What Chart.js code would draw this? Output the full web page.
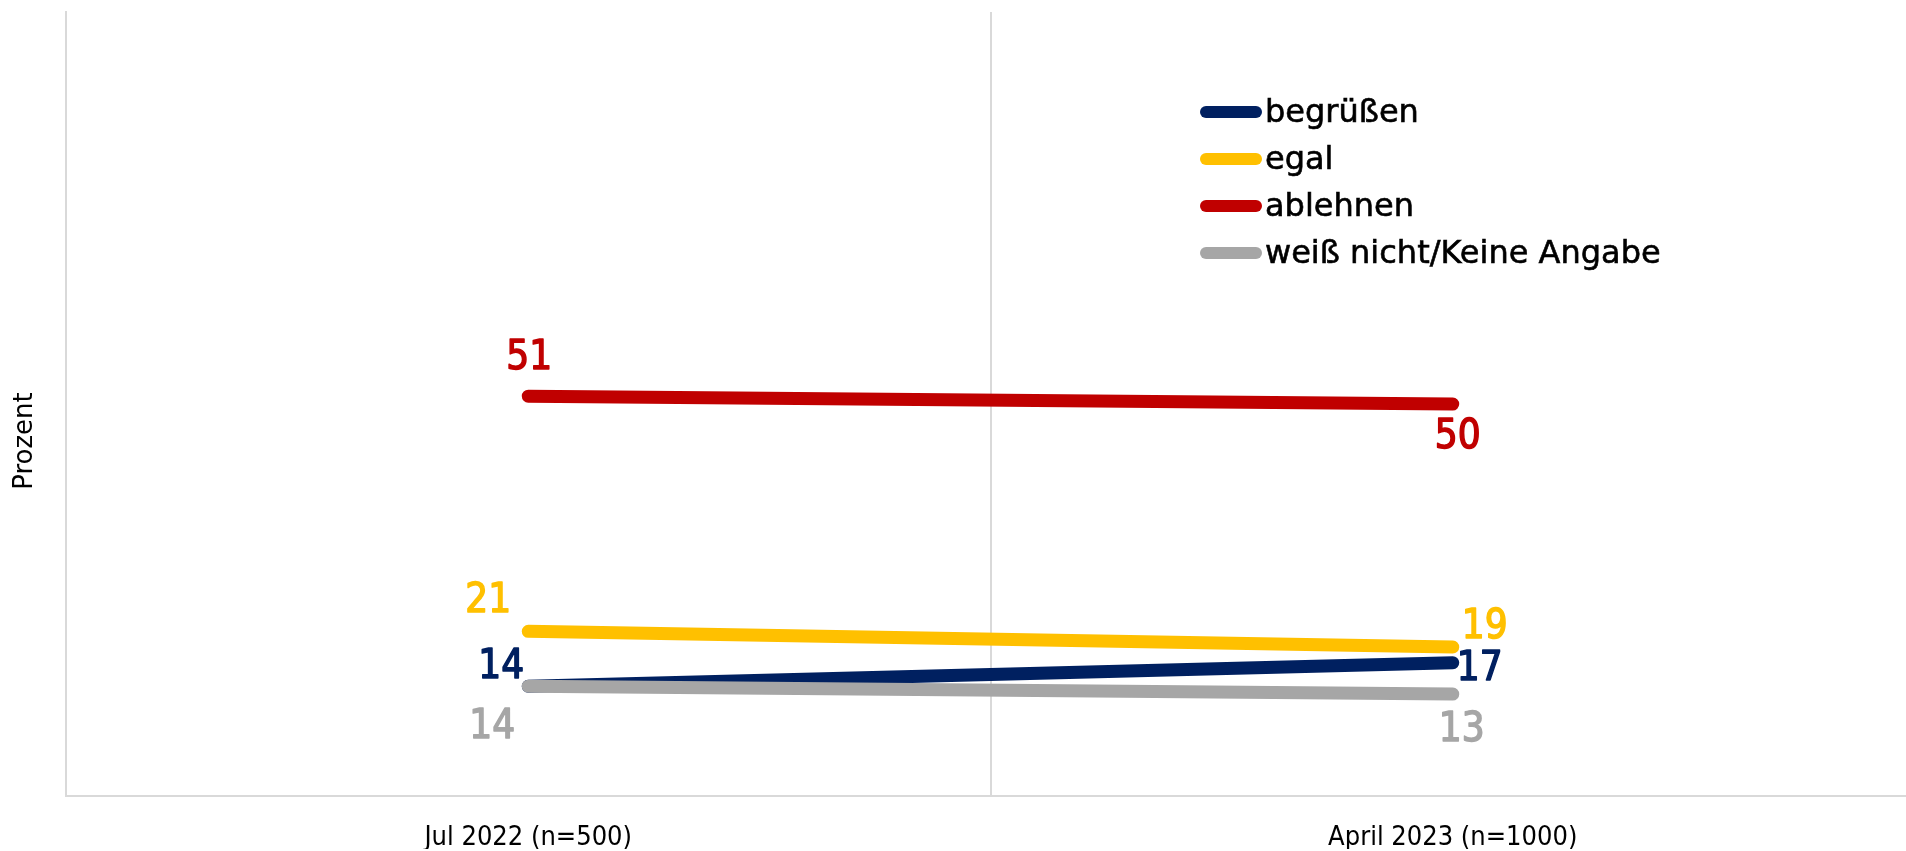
<!DOCTYPE html>
<html>
<head>
<meta charset="utf-8">
<script src="https://cdn.jsdelivr.net/npm/chart.js@4/dist/chart.umd.min.js"></script>
<style>
  html, body { margin: 0; padding: 0; background: #fff; overflow: hidden; }
  #wrap { width: 1916px; height: 851px; }
</style>
</head>
<body>
<div id="wrap"><canvas id="c" width="1916" height="851"></canvas></div>
<script>
// ---- data ----
const categories = ['Jul 2022 (n=500)', 'April 2023 (n=1000)'];
const seriesNames = ['begrüßen', 'egal', 'ablehnen', 'weiß nicht/Keine Angabe'];
const begruessen = [14, 17];
const egal = [21, 19];
const ablehnen = [51, 50];
const weissNicht = [14, 13];
const yAxisTitle = 'Prozent';

// ---- styles ----
const colors = ['#002060', '#FFC000', '#C00000', '#A6A6A6'];
const drawOrder = [1, 2, 3, 0];
// label offsets (dx, dy) per series per point
const labelOffsets = [
  [[-27, -19], [27, 7]],
  [[-40, -30], [32, -19]],
  [[1, -38], [5, 34]],
  [[-36, 41], [9, 37]]
];
const FONT = '"DejaVu Sans", sans-serif';
const FONT_C = '"DejaVu Sans Condensed", "DejaVu Sans", sans-serif';

const values = [begruessen, egal, ablehnen, weissNicht];

const datasets = seriesNames.map((name, i) => ({
  label: name,
  data: values[i],
  borderColor: colors[i],
  backgroundColor: colors[i],
  borderWidth: 13,
  borderCapStyle: 'round',
  borderJoinStyle: 'round',
  pointRadius: 0,
  pointHoverRadius: 0,
  tension: 0,
  fill: false,
  order: drawOrder[i]
}));

const valueLabels = {
  id: 'valueLabels',
  afterDatasetsDraw(chart) {
    const ctx = chart.ctx;
    ctx.save();
    ctx.font = '40px ' + FONT_C;
    ctx.textAlign = 'center';
    ctx.textBaseline = 'middle';
    ctx.lineWidth = 1.4;
    ctx.lineJoin = 'round';
    chart.data.datasets.forEach((ds, di) => {
      const meta = chart.getDatasetMeta(di);
      meta.data.forEach((pt, pi) => {
        const off = labelOffsets[di][pi];
        ctx.fillStyle = colors[di];
        ctx.strokeStyle = colors[di];
        const t = String(ds.data[pi]);
        ctx.fillText(t, pt.x + off[0], pt.y + off[1]);
        ctx.strokeText(t, pt.x + off[0], pt.y + off[1]);
      });
    });
    ctx.restore();
  }
};

const customLegend = {
  id: 'customLegend',
  afterDraw(chart) {
    const ctx = chart.ctx;
    ctx.save();
    const x0 = 1206, x1 = 1256, y0 = 112, step = 47;
    chart.data.datasets.forEach((ds, i) => {
      const y = y0 + i * step;
      ctx.strokeStyle = ds.borderColor;
      ctx.lineWidth = 12;
      ctx.lineCap = 'round';
      ctx.beginPath();
      ctx.moveTo(x0, y);
      ctx.lineTo(x1, y);
      ctx.stroke();
      ctx.fillStyle = '#000';
      ctx.strokeStyle = '#000';
      ctx.lineWidth = 0.6;
      ctx.font = '32px ' + FONT;
      ctx.textAlign = 'left';
      ctx.textBaseline = 'alphabetic';
      ctx.fillText(ds.label, 1265, y + 10);
      ctx.strokeText(ds.label, 1265, y + 10);
    });
    ctx.restore();
  }
};

const yTitle = {
  id: 'yTitle',
  afterDraw(chart) {
    const ctx = chart.ctx;
    ctx.save();
    ctx.translate(25, 441);
    ctx.rotate(-Math.PI / 2);
    ctx.font = '26px ' + FONT;
    ctx.fillStyle = '#000';
    ctx.textAlign = 'center';
    ctx.textBaseline = 'middle';
    ctx.fillText(yAxisTitle, 0, 0);
    ctx.restore();
  }
};

new Chart(document.getElementById('c'), {
  type: 'line',
  data: { labels: categories, datasets },
  options: {
    responsive: false,
    animation: false,
    devicePixelRatio: 1,
    layout: { padding: { left: 66, top: 12, right: 1, bottom: 2 } },
    plugins: { legend: { display: false }, tooltip: { enabled: false } },
    scales: {
      x: {
        type: 'category',
        offset: true,
        grid: { display: true, offset: true, color: '#d9d9d9', lineWidth: 2, drawTicks: false },
        border: { display: true, color: '#d9d9d9', width: 2 },
        ticks: { color: '#000', font: { family: FONT_C, size: 27 }, padding: 26, maxRotation: 0 },
        afterFit(scale) { scale.height = 53; }
      },
      y: {
        min: 0, max: 100,
        ticks: { display: false },
        grid: { display: false, drawTicks: false },
        border: { display: true, color: '#d9d9d9', width: 2 }
      }
    }
  },
  plugins: [valueLabels, customLegend, yTitle]
});
</script>
</body>
</html>
